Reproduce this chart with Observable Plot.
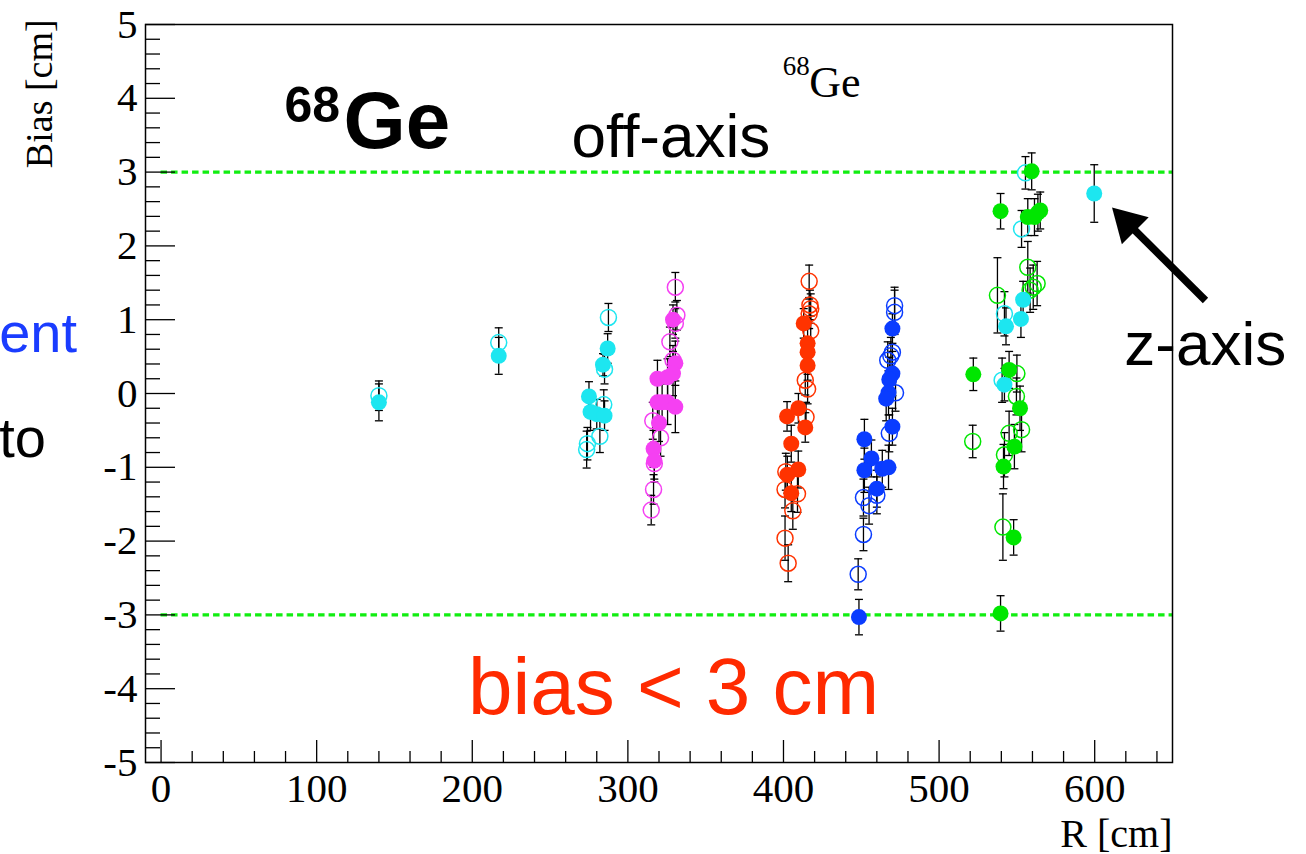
<!DOCTYPE html>
<html><head><meta charset="utf-8">
<script src="https://cdn.jsdelivr.net/npm/d3@7"></script>
<script src="https://cdn.jsdelivr.net/npm/@observablehq/plot@0.6"></script>
<style>
html,body{margin:0;padding:0;background:#fff;overflow:hidden}
#chart svg{display:block;overflow:visible}
</style></head><body><div id="chart"></div>
<script>
// ---- data: [R (cm), bias (cm), error (cm)] ----
const cyanFilled = [[140,-0.12,0.25],[217,0.51,0.25],[287,0.61,0.2],[284,0.39,0.15],[275,-0.04,0.2],[276,-0.25,0.25],[280,-0.28,0.2],[285,-0.3,0.2],[554,1.27,0.25],[552.6,1.01,0.25],[543,0.91,0.25],[542,0.12,0.22],[599.7,2.71,0.39]];
const cyanOpen = [[140,-0.03,0.2],[217,0.69,0.2],[287.5,1.03,0.19],[285,0.33,0.2],[284.5,-0.15,0.2],[282,-0.58,0.22],[274,-0.68,0.22],[273.5,-0.76,0.25],[555.5,2.99,0.22],[553,2.23,0.25],[542,1.08,0.3],[540.5,0.18,0.3]];
const magentaFilled = [[329,1.0,0.2],[330.5,0.41,0.3],[329,0.27,0.3],[319,0.2,0.25],[325.5,0.22,0.25],[319,-0.12,0.25],[322,-0.12,0.25],[325.5,-0.12,0.3],[330.5,-0.18,0.35],[320,-0.4,0.25],[316.5,-0.75,0.25],[317,-0.91,0.25]];
const magentaOpen = [[330.5,1.44,0.2],[331.5,1.06,0.2],[330.5,0.95,0.2],[327,0.7,0.2],[329,0.45,0.2],[316,-0.37,0.25],[321,-0.6,0.25],[317,-0.95,0.25],[316.5,-1.3,0.2],[315,-1.58,0.2]];
const redFilled = [[413,0.95,0.2],[415.5,0.68,0.2],[415.5,0.56,0.2],[415.5,0.38,0.2],[409.6,-0.2,0.2],[402.3,-0.31,0.2],[414,-0.46,0.2],[405,-0.68,0.25],[409.5,-1.03,0.25],[402.5,-1.1,0.25],[405,-1.35,0.25]];
const redOpen = [[416.5,1.52,0.22],[417,1.2,0.2],[417.5,1.15,0.2],[416.5,1.08,0.2],[417.5,0.85,0.2],[414,0.18,0.2],[415.5,0.06,0.2],[414.5,-0.32,0.2],[401.5,-1.06,0.25],[401,-1.3,0.25],[409,-1.36,0.25],[406,-1.59,0.25],[401,-1.96,0.3],[403,-2.3,0.25]];
const blueFilled = [[470,0.88,0.2],[470,0.27,0.3],[468,0.19,0.3],[467.5,0.01,0.3],[466,-0.07,0.3],[470,-0.45,0.25],[452,-0.62,0.27],[456.5,-0.88,0.25],[452,-1.04,0.3],[463.5,-1.02,0.25],[467.5,-1.0,0.3],[460,-1.29,0.25],[448.5,-3.03,0.24]];
const blueOpen = [[471.4,1.19,0.25],[471.4,1.1,0.3],[470,0.56,0.25],[469,0.51,0.25],[467,0.45,0.25],[472,0.01,0.25],[468,-0.54,0.25],[451.4,-1.41,0.25],[455,-1.52,0.25],[460,-1.38,0.25],[451.4,-1.91,0.22],[448,-2.45,0.21]];
const greenFilled = [[559.5,3.01,0.25],[539.5,2.47,0.24],[557,2.39,0.25],[561.3,2.39,0.25],[565,2.48,0.25],[563.5,2.45,0.25],[522,0.26,0.22],[545,0.32,0.25],[552,-0.2,0.3],[548.4,-0.72,0.3],[541.4,-0.99,0.3],[547.9,-1.95,0.24],[539.5,-2.98,0.24]];
const greenOpen = [[557,1.71,0.35],[563,1.49,0.3],[560.5,1.44,0.3],[558.5,1.4,0.3],[537.5,1.33,0.51],[550,0.27,0.25],[549.7,-0.04,0.25],[521.6,-0.65,0.22],[545,-0.54,0.3],[553,-0.49,0.3],[542,-0.83,0.3],[541,-1.81,0.45]];

const biasLimits = [3, -3];
const yMajorTicks = [-5,-4,-3,-2,-1,0,1,2,3,4,5];
const xMajorTicks = [0,100,200,300,400,500,600];

// ---- styles ----
const groups = [
  {color:"#1de6f0", filled:cyanFilled, open:cyanOpen},
  {color:"#f540f2", filled:magentaFilled, open:magentaOpen},
  {color:"#ff3300", filled:redFilled, open:redOpen},
  {color:"#0a3cff", filled:blueFilled, open:blueOpen},
  {color:"#00e600", filled:greenFilled, open:greenOpen}
];
const limitColor = "#11ee11";
const W = 1306, H = 854, mL = 145, mR = 134, mT = 24, mB = 92;
const xDomain = [-10, 650], yDomain = [-5, 5];
const pxPerR = (W - mL - mR) / (xDomain[1] - xDomain[0]);
const capHalf = 4 / pxPerR;

const yMinorTicks = d3.range(-50, 51, 2).filter(v => v % 10 !== 0).map(v => v / 10);
const xMinorTicks = d3.range(0, 650, 20).filter(v => v % 100 !== 0);

const toRows = list => list.map(([R, bias, err]) => ({R, bias, err}));
const allRows = groups.flatMap(g => toRows(g.filled).concat(toRows(g.open)));

// annotations (data coordinates)
const labels = [
  {x:79.3, y:3.68, text:"68", size:50, weight:"bold", family:"Liberation Sans", color:"black", anchor:"start"},
  {x:117.2, y:3.33, text:"Ge", size:80, weight:"bold", family:"Liberation Sans", color:"black", anchor:"start"},
  {x:263.8, y:3.21, text:"off-axis", size:62, weight:"normal", family:"Liberation Sans", color:"black", anchor:"start"},
  {x:399.5, y:4.31, text:"68", size:27, weight:"normal", family:"Liberation Serif", color:"black", anchor:"start"},
  {x:416.6, y:4.02, text:"Ge", size:44, weight:"normal", family:"Liberation Serif", color:"black", anchor:"start"},
  {x:619, y:0.38, text:"z-axis", size:62, weight:"normal", family:"Liberation Sans", color:"black", anchor:"start"},
  {x:197.2, y:-4.34, text:"bias < 3 cm", size:80, weight:"normal", family:"Liberation Sans", color:"#ff2a00", anchor:"start"},
  {x:-104, y:0.556, text:"ent", size:56, weight:"normal", family:"Liberation Sans", color:"#1a3cff", anchor:"start"},
  {x:-104, y:-0.867, text:"to", size:56, weight:"normal", family:"Liberation Sans", color:"black", anchor:"start"},
  {x:650, y:-6.14, text:"R [cm]", size:40, weight:"normal", family:"Liberation Serif", color:"black", anchor:"end"},
  {x:-69.8, y:5.07, text:"Bias [cm]", size:38, weight:"normal", family:"Liberation Serif", color:"black", anchor:"end", rotate:-90}
];
const arrow = [{tailR:671.2, tailB:1.26, headR:621.1, headB:2.31}];

const marks = [];
marks.push(Plot.ruleY(biasLimits, {x1:0, x2:xDomain[1], stroke:limitColor, strokeWidth:3.2, strokeDasharray:"6.5,4"}));
// error bars
marks.push(Plot.ruleX(allRows, {x:"R", y1:d => d.bias - d.err, y2:d => d.bias + d.err, stroke:"black", strokeWidth:1.3}));
marks.push(Plot.link(allRows, {x1:d => d.R - capHalf, x2:d => d.R + capHalf, y1:d => d.bias + d.err, y2:d => d.bias + d.err, stroke:"black", strokeWidth:1.3}));
marks.push(Plot.link(allRows, {x1:d => d.R - capHalf, x2:d => d.R + capHalf, y1:d => d.bias - d.err, y2:d => d.bias - d.err, stroke:"black", strokeWidth:1.3}));
for (const g of groups) {
  marks.push(Plot.dot(toRows(g.open), {x:"R", y:"bias", r:8, fill:"none", stroke:g.color, strokeWidth:1.5}));
}
for (const g of groups) {
  marks.push(Plot.dot(toRows(g.filled), {x:"R", y:"bias", r:8, fill:g.color, stroke:null}));
}
// frame and axes
marks.push(Plot.frame({stroke:"black", strokeWidth:1.5}));
marks.push(Plot.axisY({ticks:yMajorTicks, anchor:"left", tickSize:-30, tickPadding:38, tickFormat:d => String(d), fontSize:41, fontFamily:"Liberation Serif", strokeWidth:1.3, label:null}));
marks.push(Plot.axisY({ticks:yMinorTicks, anchor:"left", tickSize:-15, tickPadding:0, tickFormat:() => "", strokeWidth:1.3, label:null}));
marks.push(Plot.axisX({ticks:xMajorTicks, anchor:"bottom", tickSize:-22, tickPadding:32, tickFormat:d => String(d), fontSize:41, fontFamily:"Liberation Serif", strokeWidth:1.3, label:null}));
marks.push(Plot.axisX({ticks:xMinorTicks, anchor:"bottom", tickSize:-11, tickPadding:0, tickFormat:() => "", strokeWidth:1.3, label:null}));
// arrow
marks.push(Plot.link(arrow, {x1:"tailR", y1:"tailB", x2:"headR", y2:"headB", stroke:"black", strokeWidth:7.5}));
marks.push(Plot.dot(arrow, {x:"headR", y:"headB", symbol:"triangle", r:14.1, fill:"black", stroke:null, rotate:-45}));
// text
for (const a of labels) {
  marks.push(Plot.text([a], {x:"x", y:"y", text:"text", fontSize:a.size, fontWeight:a.weight, fontFamily:a.family, fill:a.color, textAnchor:a.anchor, lineAnchor:"bottom", rotate:a.rotate || 0}));
}

const chart = Plot.plot({
  width:W, height:H,
  marginLeft:mL, marginRight:mR, marginTop:mT, marginBottom:mB,
  x:{domain:xDomain, label:null},
  y:{domain:yDomain, label:null},
  style:{fontFamily:"Liberation Serif", background:"white", color:"black", overflow:"visible"},
  marks
});
document.getElementById("chart").appendChild(chart);
</script></body></html>
